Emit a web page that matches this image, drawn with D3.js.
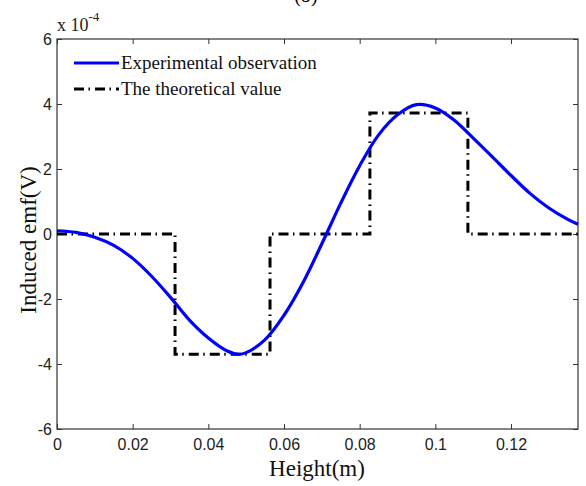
<!DOCTYPE html>
<html>
<head>
<meta charset="utf-8">
<script src="https://cdn.jsdelivr.net/npm/d3@7.9.0/dist/d3.min.js"></script>
<style>
  html, body { margin: 0; padding: 0; background: #fff; }
  svg { display: block; }
</style>
</head>
<body>
<svg id="chart" width="586" height="486"></svg>
<script>
// Data (emf in units of 1e-4 V)
const heightExp = [0, 0.005, 0.01, 0.015, 0.02, 0.025, 0.03, 0.035, 0.04, 0.045, 0.048, 0.05,
  0.055, 0.06, 0.065, 0.07, 0.075, 0.08, 0.085, 0.09, 0.095, 0.1, 0.105, 0.11, 0.115,
  0.12, 0.125, 0.13, 0.135, 0.1377];
const emfExp = [0.10, 0.05, -0.10, -0.35, -0.75, -1.30, -1.95, -2.65, -3.20, -3.60, -3.70, -3.65,
  -3.25, -2.50, -1.50, -0.30, 0.95, 2.10, 3.05, 3.67, 3.98, 3.88, 3.50, 2.95, 2.38,
  1.80, 1.25, 0.80, 0.45, 0.30];

// theoretical value: step function (corner points)
const heightTheory = [0, 0.0312, 0.0312, 0.0563, 0.0563, 0.0827, 0.0827, 0.1086, 0.1086, 0.1377];
const emfTheory = [0, 0, -3.7, -3.7, 0, 0, 3.72, 3.72, 0, 0];

const xTicks = [0, 0.02, 0.04, 0.06, 0.08, 0.1, 0.12];
const xTickLabels = ['0', '0.02', '0.04', '0.06', '0.08', '0.1', '0.12'];
const yTicks = [-6, -4, -2, 0, 2, 4, 6];
const yTickLabels = ['-6', '-4', '-2', '0', '2', '4', '6'];

const seriesNames = ['Experimental observation', 'The theoretical value'];

const svg = d3.select('#chart');
const plotL = 57, plotR = 578, plotT = 39, plotB = 429;

const x = d3.scaleLinear().domain([0, 0.1377]).range([plotL, plotR]);
const y = d3.scaleLinear().domain([-6, 6]).range([plotB, plotT]);

const axisColor = '#333';
const tickFont = '"Liberation Sans", Arial, sans-serif';
const serif = '"Liberation Serif", "Times New Roman", serif';

// title, mostly cut off by the top edge in the original
svg.append('text')
  .attr('x', 306).attr('y', 2)
  .attr('text-anchor', 'middle')
  .attr('font-family', serif).attr('font-size', 20)
  .text('(b)');

// axes (ticks point inward, mirrored on all sides)
function styleAxis(g) {
  g.select('.domain').remove();
  g.selectAll('.tick line').attr('stroke', axisColor);
  g.selectAll('.tick text')
    .attr('fill', '#222')
    .attr('font-family', tickFont)
    .attr('font-size', 16);
}

const fmtX = (d, i) => xTickLabels[i];
const fmtY = (d, i) => yTickLabels[i];

svg.append('g')
  .attr('transform', `translate(0,${plotB})`)
  .call(d3.axisBottom(x).tickValues(xTicks).tickFormat(fmtX).tickSize(-5).tickPadding(10))
  .call(styleAxis);

svg.append('g')
  .attr('transform', `translate(0,${plotT})`)
  .call(d3.axisTop(x).tickValues(xTicks).tickFormat('').tickSize(-5))
  .call(styleAxis);

svg.append('g')
  .attr('transform', `translate(${plotL},0)`)
  .call(d3.axisLeft(y).tickValues(yTicks).tickFormat(fmtY).tickSize(-5).tickPadding(5))
  .call(styleAxis);

svg.append('g')
  .attr('transform', `translate(${plotR},0)`)
  .call(d3.axisRight(y).tickValues(yTicks).tickFormat('').tickSize(-5))
  .call(styleAxis);

// box
svg.append('rect')
  .attr('x', plotL).attr('y', plotT)
  .attr('width', plotR - plotL).attr('height', plotB - plotT)
  .attr('fill', 'none')
  .attr('stroke', axisColor)
  .attr('stroke-width', 1.2);

// multiplier label
const mult = svg.append('text')
  .attr('x', 57).attr('y', 31)
  .attr('font-family', serif).attr('font-size', 18)
  .attr('fill', '#222');
mult.append('tspan').text('x 10');
mult.append('tspan').attr('dy', -10).attr('font-size', 13).text('-4');

// lines
const line = d3.line()
  .x(d => x(d[0]))
  .y(d => y(d[1]));

const dashDot = '10,4.5,1.5,5';

svg.append('path')
  .datum(heightTheory.map((h, i) => [h, emfTheory[i]]))
  .attr('d', line)
  .attr('fill', 'none')
  .attr('stroke', '#000')
  .attr('stroke-width', 3)
  .attr('stroke-dasharray', dashDot);

svg.append('path')
  .datum(heightExp.map((h, i) => [h, emfExp[i]]))
  .attr('d', line.curve(d3.curveCatmullRom.alpha(0.5)))
  .attr('fill', 'none')
  .attr('stroke', '#0000ff')
  .attr('stroke-width', 3.2);

// legend (no box)
const legendStyles = [
  { color: '#0000ff', dash: null },
  { color: '#000', dash: dashDot }
];
seriesNames.forEach((name, i) => {
  const ly = 63 + i * 26;
  svg.append('line')
    .attr('x1', 74).attr('x2', 119)
    .attr('y1', ly).attr('y2', ly)
    .attr('stroke', legendStyles[i].color)
    .attr('stroke-width', 3.2)
    .attr('stroke-dasharray', legendStyles[i].dash);
  svg.append('text')
    .attr('x', 121).attr('y', ly + 6)
    .attr('font-family', serif).attr('font-size', 19)
    .attr('fill', '#111')
    .text(name);
});

// axis titles
svg.append('text')
  .attr('x', 317).attr('y', 476)
  .attr('text-anchor', 'middle')
  .attr('font-family', serif).attr('font-size', 23)
  .attr('fill', '#111')
  .text('Height(m)');

svg.append('text')
  .attr('transform', `translate(36,240) rotate(-90)`)
  .attr('text-anchor', 'middle')
  .attr('font-family', serif).attr('font-size', 23)
  .attr('fill', '#111')
  .text('Induced emf(V)');
</script>
</body>
</html>
